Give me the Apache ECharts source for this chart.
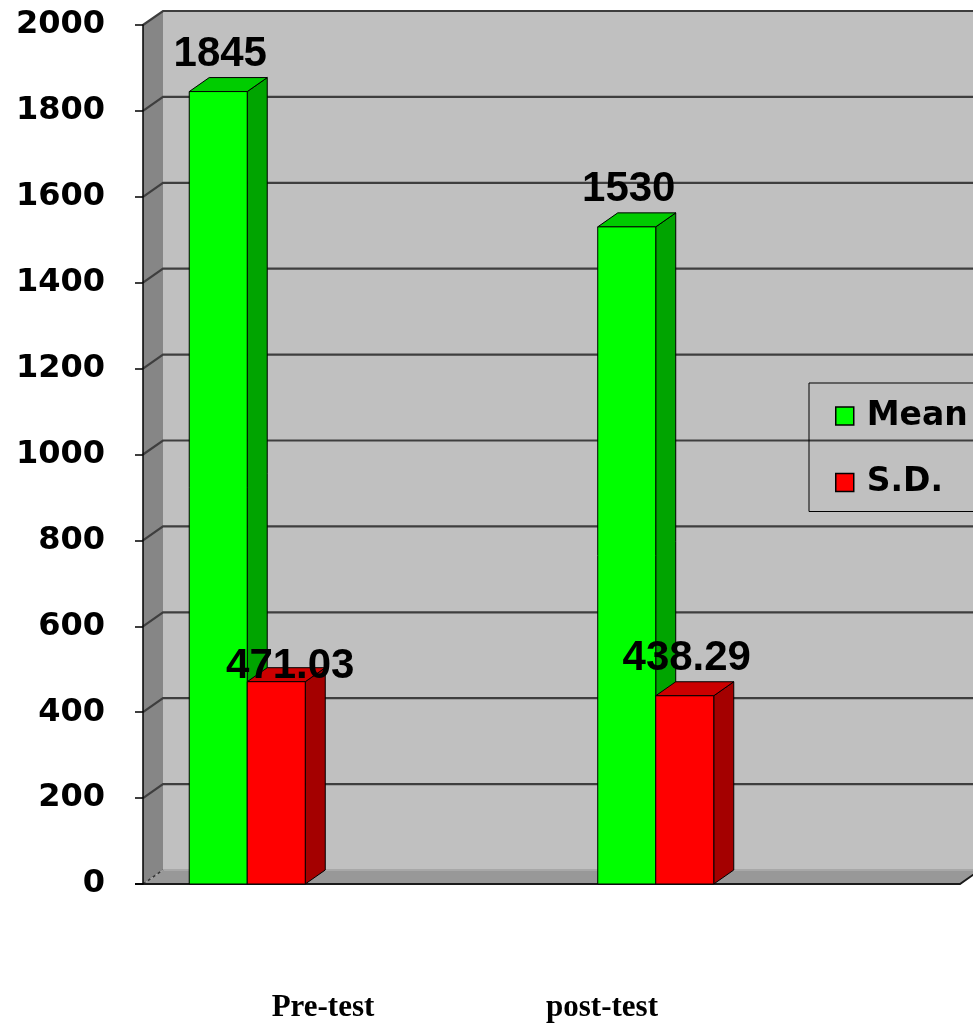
<!DOCTYPE html>
<html><head><meta charset="utf-8">
<script src="https://cdn.jsdelivr.net/npm/echarts@6/dist/echarts.min.js"></script>
<style>html,body{margin:0;padding:0;background:#fff}#c{width:973px;height:1023px}</style>
</head><body><div id="c"></div>
<script>
// ---- data ----
const categories = ['Pre-test', 'post-test'];
const meanValues = [1845, 1530];
const sdValues = [471.03, 438.29];
const yTicks = [0, 200, 400, 600, 800, 1000, 1200, 1400, 1600, 1800, 2000];
const seriesNames = ['Mean', 'S.D.'];

// ---- style / layout ----
const DX = 20, DY = -14;              // 3D depth offset
const catLabelX = [323, 602];          // category label centres (px)
const faceColors = [
  { front: '#00ff00', side: '#00a400', top: '#00cc00' },
  { front: '#ff0000', side: '#a40000', top: '#cc0000' }
];

function wallsRender(params, api) {
  const cs = params.coordSys;
  const x0 = cs.x, y0 = cs.y, w = cs.width, h = cs.height;
  const xr = x0 + w, yb = y0 + h, ext = 80;
  const ch = [];
  ch.push({ type: 'polygon', shape: { points: [[x0 + DX, y0 + DY], [xr + DX + ext, y0 + DY], [xr + DX + ext, yb + DY], [x0 + DX, yb + DY]] }, style: { fill: '#c0c0c0' } });
  ch.push({ type: 'polygon', shape: { points: [[x0, y0], [x0 + DX, y0 + DY], [x0 + DX, yb + DY], [x0, yb]] }, style: { fill: '#868686' } });
  ch.push({ type: 'polygon', shape: { points: [[x0, yb], [xr, yb], [xr + DX, yb + DY], [x0 + DX, yb + DY]] }, style: { fill: '#989898' } });
  ch.push({ type: 'polyline', shape: { points: [[x0 + DX, yb + DY], [xr + DX, yb + DY]] }, style: { stroke: '#a8a8a8', lineWidth: 2, fill: null } });
  yTicks.forEach(function (v) {
    const y = api.coord([0, v])[1];
    if (v === 0) {
      ch.push({ type: 'line', shape: { x1: x0, y1: y, x2: x0 + DX, y2: y + DY }, style: { stroke: '#333', lineWidth: 1.5, lineDash: [3, 3] } });
    } else {
      ch.push({ type: 'polyline', shape: { points: [[x0, y], [x0 + DX, y + DY], [xr + DX + ext, y + DY]] }, style: { stroke: '#3e3e3e', lineWidth: 2.2, fill: null } });
    }
  });
  ch.push({ type: 'polyline', shape: { points: [[x0 - 8, yb], [xr, yb], [xr + DX, yb + DY]] }, style: { stroke: '#1a1a1a', lineWidth: 2, fill: null } });
  return { type: 'group', children: ch };
}

function barRender(sIdx) {
  return function (params, api) {
    const cat = api.value(0), val = api.value(1);
    const topPt = api.coord([cat, val]);
    const basePt = api.coord([cat, 0]);
    const bandW = params.coordSys.width / categories.length;
    const barW = bandW * 0.142;
    const groupCenter = topPt[0] - bandW * 0.2448;
    const left = groupCenter + (sIdx - 1) * barW;
    const right = left + barW;
    const t = topPt[1], b = basePt[1];
    const c = faceColors[sIdx];
    const st = { stroke: '#000', lineWidth: 1 };
    let lx = left + barW / 2 + 2, ly = t - 37;
    if (sIdx === 1 && cat === 0) { lx = left + barW / 2 + 14; ly = t - 15; }
    return {
      type: 'group',
      children: [
        { type: 'polygon', shape: { points: [[right, t], [right + DX, t + DY], [right + DX, b + DY], [right, b]] }, style: Object.assign({ fill: c.side }, st) },
        { type: 'polygon', shape: { points: [[left, t], [left + DX, t + DY], [right + DX, t + DY], [right, t]] }, style: Object.assign({ fill: c.top }, st) },
        { type: 'rect', shape: { x: left, y: t, width: barW, height: b - t }, style: Object.assign({ fill: c.front }, st) },
        { type: 'text', x: lx, y: ly, z2: 10, style: { text: String(val), fill: '#000', font: 'bold 42px "Liberation Sans", Arial, sans-serif', align: 'center', verticalAlign: 'middle' } }
      ]
    };
  };
}

const chart = echarts.init(document.getElementById('c'), null, { renderer: 'canvas' });
chart.setOption({
  animation: false,
  backgroundColor: '#fff',
  grid: { left: 143, right: 13, top: 25, bottom: 139, containLabel: false },
  xAxis: {
    type: 'category', data: categories,
    axisLine: { show: false }, axisTick: { show: false }, axisLabel: { show: false }, splitLine: { show: false }
  },
  yAxis: {
    type: 'value', min: 0, max: 2000, interval: 200, z: 5,
    axisLine: { show: true, lineStyle: { color: '#000', width: 1.5 } },
    axisTick: { show: true, length: 8, lineStyle: { color: '#000', width: 1.5 } },
    axisLabel: { margin: 38, color: '#000', fontFamily: '"DejaVu Sans"', fontWeight: 'bold', fontSize: 32,
      formatter: function (v) { return String(v); } },
    splitLine: { show: false }
  },
  legend: {
    data: seriesNames,
    orient: 'vertical', left: 809, top: 383,
    padding: [13, 40, 9, 26],
    itemGap: 26.5, itemWidth: 18, itemHeight: 18, icon: 'rect',
    borderColor: '#000', borderWidth: 1, backgroundColor: 'transparent',
    itemStyle: { borderColor: '#000', borderWidth: 1.5 },
    textStyle: { color: '#000', fontFamily: '"DejaVu Sans"', fontWeight: 'bold', fontSize: 33, lineHeight: 40, padding: [0, 0, 0, 8] }
  },
  graphic: categories.map(function (c, i) {
    return { type: 'text', x: catLabelX[i], y: 1008, style: { text: c, fill: '#000', font: 'bold 31px "Liberation Serif", "Times New Roman", serif', align: 'center', verticalAlign: 'middle' } };
  }),
  series: [
    { type: 'custom', name: 'walls', silent: true, z: 1, renderItem: wallsRender, data: [[0, 0]], encode: { x: 0, y: 1 } },
    { type: 'custom', name: seriesNames[0], z: 2, renderItem: barRender(0), itemStyle: { color: '#00ff00', borderColor: '#000', borderWidth: 1 },
      data: categories.map(function (c, i) { return [i, meanValues[i]]; }), encode: { x: 0, y: 1 } },
    { type: 'custom', name: seriesNames[1], z: 3, renderItem: barRender(1), itemStyle: { color: '#ff0000', borderColor: '#000', borderWidth: 1 },
      data: categories.map(function (c, i) { return [i, sdValues[i]]; }), encode: { x: 0, y: 1 } }
  ]
});
</script>
</body></html>
